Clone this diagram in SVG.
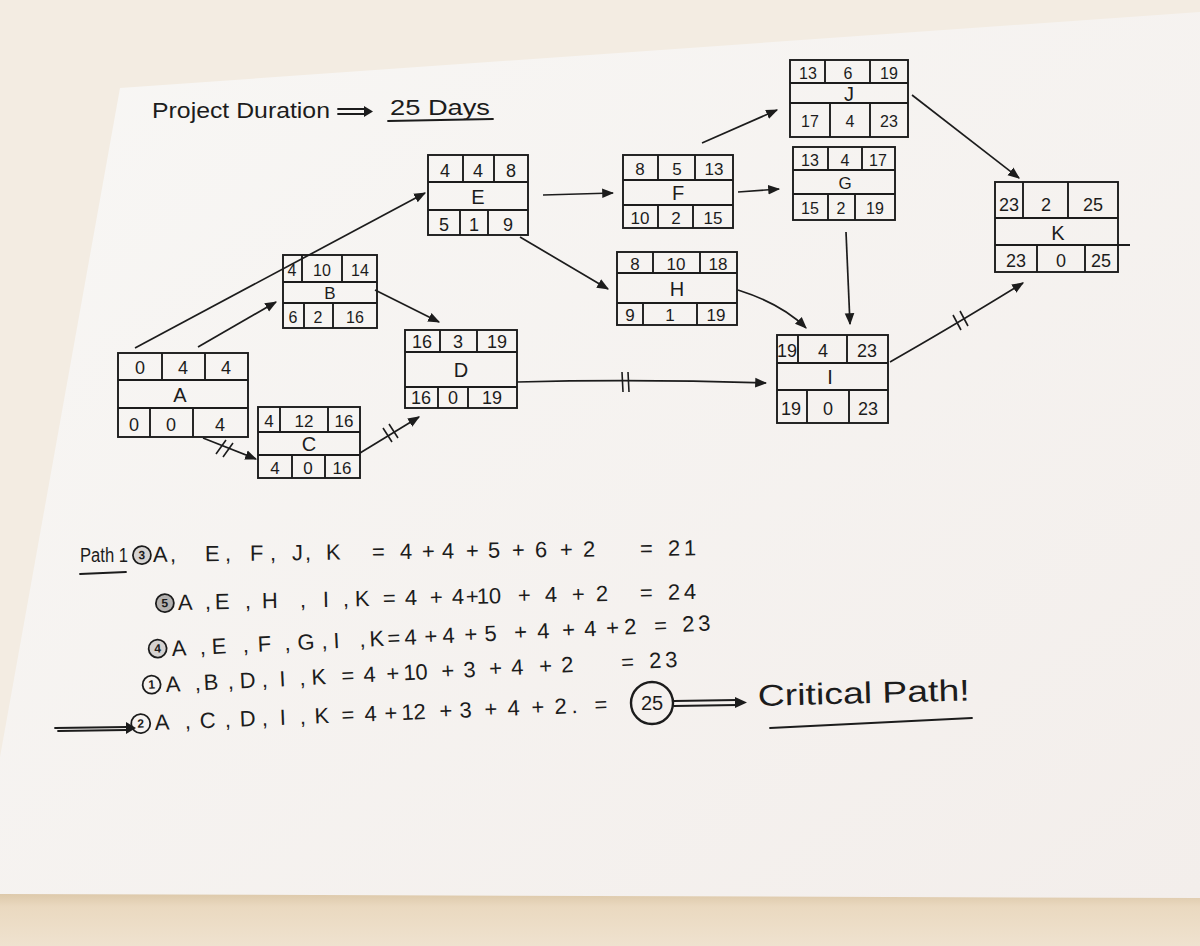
<svg xmlns="http://www.w3.org/2000/svg" width="1200" height="946" viewBox="0 0 1200 946">
<defs>
<linearGradient id="paperg" x1="0" y1="0" x2="1" y2="1">
<stop offset="0" stop-color="#f8f7f5"/>
<stop offset="1" stop-color="#f3eeeb"/>
</linearGradient>
<linearGradient id="floorg" x1="0" y1="0" x2="0" y2="1">
<stop offset="0" stop-color="#d9c4a4"/>
<stop offset="0.3" stop-color="#ead9c0"/>
<stop offset="1" stop-color="#efe2cf"/>
</linearGradient>
<marker id="ah" viewBox="0 0 10 10" refX="9" refY="5" markerWidth="12" markerHeight="12" markerUnits="userSpaceOnUse" orient="auto">
<path d="M0,1 L10,5 L0,9 z" fill="#1c1c1c"/>
</marker>
<style>
.ink{stroke:#1c1c1c;stroke-width:1.8;fill:none;stroke-linecap:round;stroke-linejoin:round}
.node rect,.node line{stroke:#1c1c1c;stroke-width:1.9;fill:none}
.node text{font-family:"Liberation Sans",Arial,sans-serif;fill:#1c1c1c;text-anchor:middle}
.n16{font-size:16px}.n17{font-size:17px}.n18{font-size:18px}
.lbl{font-size:20px}
.hand{font-family:"Liberation Sans",Arial,sans-serif;fill:#1c1c1c}
.conn{stroke:#1c1c1c;stroke-width:1.7;fill:none;marker-end:url(#ah)}
.tick{stroke:#1c1c1c;stroke-width:1.6}
.cn{font-family:"Liberation Sans",Arial,sans-serif;font-size:12px;font-weight:bold;fill:#1c1c1c;text-anchor:middle}
</style>
</defs>

<!-- background and paper -->
<rect x="0" y="0" width="1200" height="946" fill="#f3ece2"/>
<rect x="0" y="890" width="1200" height="56" fill="url(#floorg)"/>
<polygon points="120,88 1200,12 1200,898 0,894 0,757" fill="url(#paperg)"/>

<!-- title -->
<g id="title">
<text class="hand" x="152" y="118" font-size="22" textLength="178" lengthAdjust="spacingAndGlyphs">Project Duration</text>
<path class="ink" d="M338,109 L366,109 M338,114 L366,114"/>
<path d="M364,106 L373,111.5 L364,117 z" fill="#1c1c1c"/>
<text class="hand" x="390" y="115" font-size="22" textLength="100" lengthAdjust="spacingAndGlyphs">25 Days</text>
<path class="ink" d="M388,121 L493,119"/>
</g>

<!-- connectors -->
<g id="connectors">
<path class="conn" d="M135,348 L425,193"/>
<path class="conn" d="M198,347 L276,302"/>
<path class="conn" d="M203,438 L256,459"/>
<path class="tick" d="M216,454 L226,440 M223,457 L233,443"/>
<path class="conn" d="M375,290 L439,322"/>
<path class="conn" d="M360,453 L419,417"/>
<path class="tick" d="M383,428 L392,442 M389,424 L398,438"/>
<path class="conn" d="M517,382 Q640,379 766,383"/>
<path class="tick" d="M622,372 L623,392 M628,372 L629,392"/>
<path class="conn" d="M543,195 L613,193"/>
<path class="conn" d="M520,237 L608,289"/>
<path class="conn" d="M738,192 L779,189"/>
<path class="conn" d="M702,143 L777,110"/>
<path class="conn" d="M738,290 Q782,304 806,328"/>
<path class="conn" d="M846,232 L850,324"/>
<path class="conn" d="M912,95 L1019,178"/>
<path class="conn" d="M890,362 Q950,328 1023,283"/>
<path class="tick" d="M953,315 L961,330 M960,311 L968,326"/>
</g>

<!-- nodes -->
<g id="node-A" class="node">
<rect x="118" y="353" width="130" height="84"/>
<line x1="118" y1="380" x2="248" y2="380"/><line x1="118" y1="408" x2="248" y2="408"/>
<line x1="162" y1="353" x2="162" y2="380"/><line x1="205" y1="353" x2="205" y2="380"/>
<line x1="150" y1="408" x2="150" y2="437"/><line x1="193" y1="408" x2="193" y2="437"/>
<text class="n18" x="140" y="374">0</text><text class="n18" x="183" y="374">4</text><text class="n18" x="226" y="374">4</text>
<text class="lbl" x="180" y="402">A</text>
<text class="n18" x="134" y="431">0</text><text class="n18" x="171" y="431">0</text><text class="n18" x="220" y="431">4</text>
</g>

<g id="node-B" class="node">
<rect x="283" y="255" width="94" height="73"/>
<line x1="283" y1="282" x2="377" y2="282"/><line x1="283" y1="303" x2="377" y2="303"/>
<line x1="302" y1="255" x2="302" y2="282"/><line x1="342" y1="255" x2="342" y2="282"/>
<line x1="304" y1="303" x2="304" y2="328"/><line x1="333" y1="303" x2="333" y2="328"/>
<text class="n16" x="292" y="276">4</text><text class="n16" x="322" y="276">10</text><text class="n16" x="360" y="276">14</text>
<text class="n17" x="330" y="299">B</text>
<text class="n16" x="293" y="323">6</text><text class="n16" x="318" y="323">2</text><text class="n16" x="355" y="323">16</text>
</g>

<g id="node-C" class="node">
<rect x="258" y="407" width="102" height="71"/>
<line x1="258" y1="432" x2="360" y2="432"/><line x1="258" y1="455" x2="360" y2="455"/>
<line x1="280" y1="407" x2="280" y2="432"/><line x1="328" y1="407" x2="328" y2="432"/>
<line x1="292" y1="455" x2="292" y2="478"/><line x1="325" y1="455" x2="325" y2="478"/>
<text class="n17" x="269" y="427">4</text><text class="n17" x="304" y="427">12</text><text class="n17" x="344" y="427">16</text>
<text class="lbl" x="309" y="451">C</text>
<text class="n17" x="275" y="474">4</text><text class="n17" x="308" y="474">0</text><text class="n17" x="342" y="474">16</text>
</g>

<g id="node-D" class="node">
<rect x="405" y="330" width="112" height="78"/>
<line x1="405" y1="352" x2="517" y2="352"/><line x1="405" y1="387" x2="517" y2="387"/>
<line x1="440" y1="330" x2="440" y2="352"/><line x1="477" y1="330" x2="477" y2="352"/>
<line x1="438" y1="387" x2="438" y2="408"/><line x1="468" y1="387" x2="468" y2="408"/>
<text class="n18" x="422" y="348">16</text><text class="n18" x="458" y="348">3</text><text class="n18" x="497" y="348">19</text>
<text class="lbl" x="461" y="377">D</text>
<text class="n18" x="421" y="404">16</text><text class="n18" x="453" y="404">0</text><text class="n18" x="492" y="404">19</text>
</g>

<g id="node-E" class="node">
<rect x="428" y="155" width="100" height="80"/>
<line x1="428" y1="182" x2="528" y2="182"/><line x1="428" y1="210" x2="528" y2="210"/>
<line x1="463" y1="155" x2="463" y2="182"/><line x1="494" y1="155" x2="494" y2="182"/>
<line x1="460" y1="210" x2="460" y2="235"/><line x1="488" y1="210" x2="488" y2="235"/>
<text class="n18" x="445" y="177">4</text><text class="n18" x="478" y="177">4</text><text class="n18" x="511" y="177">8</text>
<text class="lbl" x="478" y="204">E</text>
<text class="n18" x="444" y="231">5</text><text class="n18" x="474" y="231">1</text><text class="n18" x="508" y="231">9</text>
</g>

<g id="node-F" class="node">
<rect x="623" y="155" width="110" height="73"/>
<line x1="623" y1="180" x2="733" y2="180"/><line x1="623" y1="205" x2="733" y2="205"/>
<line x1="658" y1="155" x2="658" y2="180"/><line x1="695" y1="155" x2="695" y2="180"/>
<line x1="658" y1="205" x2="658" y2="228"/><line x1="693" y1="205" x2="693" y2="228"/>
<text class="n17" x="640" y="175">8</text><text class="n17" x="677" y="175">5</text><text class="n17" x="714" y="175">13</text>
<text class="lbl" x="678" y="200">F</text>
<text class="n17" x="640" y="224">10</text><text class="n17" x="676" y="224">2</text><text class="n17" x="713" y="224">15</text>
</g>

<g id="node-H" class="node">
<rect x="617" y="252" width="120" height="73"/>
<line x1="617" y1="273" x2="737" y2="273"/><line x1="617" y1="303" x2="737" y2="303"/>
<line x1="653" y1="252" x2="653" y2="273"/><line x1="700" y1="252" x2="700" y2="273"/>
<line x1="643" y1="303" x2="643" y2="325"/><line x1="697" y1="303" x2="697" y2="325"/>
<text class="n17" x="635" y="270">8</text><text class="n17" x="676" y="270">10</text><text class="n17" x="718" y="270">18</text>
<text class="lbl" x="677" y="296">H</text>
<text class="n17" x="630" y="321">9</text><text class="n17" x="670" y="321">1</text><text class="n17" x="716" y="321">19</text>
</g>

<g id="node-J" class="node">
<rect x="790" y="60" width="118" height="77"/>
<line x1="790" y1="83" x2="908" y2="83"/><line x1="790" y1="103" x2="908" y2="103"/>
<line x1="825" y1="60" x2="825" y2="83"/><line x1="870" y1="60" x2="870" y2="83"/>
<line x1="830" y1="103" x2="830" y2="137"/><line x1="870" y1="103" x2="870" y2="137"/>
<text class="n16" x="808" y="79">13</text><text class="n16" x="848" y="79">6</text><text class="n16" x="889" y="79">19</text>
<text class="lbl" x="849" y="101">J</text>
<text class="n16" x="810" y="127">17</text><text class="n16" x="850" y="127">4</text><text class="n16" x="889" y="127">23</text>
</g>

<g id="node-G" class="node">
<rect x="793" y="147" width="102" height="73"/>
<line x1="793" y1="170" x2="895" y2="170"/><line x1="793" y1="194" x2="895" y2="194"/>
<line x1="828" y1="147" x2="828" y2="170"/><line x1="862" y1="147" x2="862" y2="170"/>
<line x1="828" y1="194" x2="828" y2="220"/><line x1="855" y1="194" x2="855" y2="220"/>
<text class="n16" x="810" y="166">13</text><text class="n16" x="845" y="166">4</text><text class="n16" x="878" y="166">17</text>
<text class="n17" x="845" y="189">G</text>
<text class="n16" x="810" y="214">15</text><text class="n16" x="841" y="214">2</text><text class="n16" x="875" y="214">19</text>
</g>

<g id="node-K" class="node">
<rect x="995" y="182" width="123" height="90"/>
<line x1="995" y1="218" x2="1118" y2="218"/><line x1="995" y1="245" x2="1130" y2="245"/>
<line x1="1023" y1="182" x2="1023" y2="218"/><line x1="1068" y1="182" x2="1068" y2="218"/>
<line x1="1037" y1="245" x2="1037" y2="272"/><line x1="1085" y1="245" x2="1085" y2="272"/>
<text class="n18" x="1009" y="211">23</text><text class="n18" x="1046" y="211">2</text><text class="n18" x="1093" y="211">25</text>
<text class="lbl" x="1058" y="240">K</text>
<text class="n18" x="1016" y="267">23</text><text class="n18" x="1061" y="267">0</text><text class="n18" x="1101" y="267">25</text>
</g>

<g id="node-I" class="node">
<rect x="777" y="335" width="111" height="88"/>
<line x1="777" y1="363" x2="888" y2="363"/><line x1="777" y1="390" x2="888" y2="390"/>
<line x1="798" y1="335" x2="798" y2="363"/><line x1="847" y1="335" x2="847" y2="363"/>
<line x1="807" y1="390" x2="807" y2="423"/><line x1="849" y1="390" x2="849" y2="423"/>
<text class="n18" x="787" y="357">19</text><text class="n18" x="823" y="357">4</text><text class="n18" x="867" y="357">23</text>
<text class="lbl" x="830" y="384">I</text>
<text class="n18" x="791" y="415">19</text><text class="n18" x="828" y="415">0</text><text class="n18" x="868" y="415">23</text>
</g>

<!-- path calculations -->
<g id="paths">
<text class="hand" x="80" y="562" font-size="20" textLength="48" lengthAdjust="spacingAndGlyphs">Path 1</text>
<path class="ink" d="M80,574 L126,572"/>

<g transform="rotate(-0.7 150 562)">
<circle cx="142" cy="555" r="9" fill="#1c1c1c" fill-opacity="0.15" stroke="#1c1c1c" stroke-width="1.8"/>
<text class="cn" x="142" y="559">3</text>
<text class="hand" font-size="22" y="562" x="153 170 205 225 250 270 292 305 326 372 400 422 442 466 488 512 535 560 583 640 668 684">A,E,F,J,K=4+4+5+6+2=21</text>
</g>

<g transform="rotate(-1.2 175 610)">
<circle cx="165" cy="603" r="9" fill="#1c1c1c" fill-opacity="0.3" stroke="#1c1c1c" stroke-width="1.8"/>
<text class="cn" x="165" y="607">5</text>
<text class="hand" font-size="22" y="610" x="178 205 215 245 262 300 323 343 355 383 405 430 452 466 477 489 518 545 572 596 640 668 684">A,E,H,I,K=4+4+10+4+2=24</text>
</g>

<g transform="rotate(-2.7 170 656)">
<circle cx="158" cy="648" r="9" fill="#1c1c1c" fill-opacity="0.15" stroke="#1c1c1c" stroke-width="1.8"/>
<text class="cn" x="158" y="652">4</text>
<text class="hand" font-size="22" y="656" x="172 200 212 243 258 285 298 322 334 360 370 388 405 425 443 465 485 515 538 563 585 607 625 655 683 699">A,E,F,G,I,K=4+4+5+4+4+2=23</text>
</g>

<g transform="rotate(-2.8 165 692)">
<circle cx="152" cy="684" r="9" fill="none" stroke="#1c1c1c" stroke-width="1.8"/>
<text class="cn" x="152" y="688">1</text>
<text class="hand" font-size="22" y="692" x="166 195 204 228 240 262 280 300 312 342 364 387 404 416 442 464 490 512 540 562 622 650 666">A,B,D,I,K=4+10+3+4+2=23</text>
</g>

<path class="ink" d="M55,728 L128,727 M58,731 L126,730" stroke-width="2.2"/>
<path d="M126,722 L136,728 L126,734 z" fill="#1c1c1c"/>
<g transform="rotate(-2.3 155 730)">
<circle cx="141" cy="723" r="9.5" fill="none" stroke="#1c1c1c" stroke-width="1.8"/>
<text class="cn" x="141" y="727">2</text>
<text class="hand" font-size="22" y="730" x="155 185 200 225 240 262 280 300 315 342 365 385 402 414 440 460 485 508 532 555 572 595">A,C,D,I,K=4+12+3+4+2.=</text>
</g>
<circle cx="652" cy="703" r="21" fill="none" stroke="#1c1c1c" stroke-width="2.4"/>
<text class="hand" x="652" y="710" font-size="20" text-anchor="middle">25</text>
<path class="ink" d="M674,701 L737,700 M674,706 L737,705" stroke-width="2.2"/>
<path d="M735,697 L747,702.5 L735,708 z" fill="#1c1c1c"/>
<text class="hand" x="758" y="706" font-size="30" textLength="212" lengthAdjust="spacingAndGlyphs" transform="rotate(-1.5 758 706)">Critical Path!</text>
<path class="ink" d="M770,728 L972,718" stroke-width="2"/>
</g>
</svg>
